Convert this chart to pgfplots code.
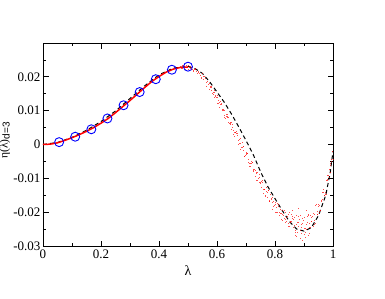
\documentclass[border=0pt]{standalone}
\usepackage{fontspec}
\setmainfont{Liberation Serif}
\setsansfont{Liberation Sans}
\usepackage{pgfplots}
\pgfplotsset{compat=1.18}
\begin{document}
\begin{tikzpicture}
\begin{axis}[
  name=ax,
  width=290pt, height=203pt, scale only axis,
  xmin=0, xmax=1, ymin=-0.03, ymax=0.03,
  xtick={0,0.2,0.4,0.6,0.8,1},
  minor xtick={0.1,0.3,0.5,0.7,0.9},
  ytick={-0.03,-0.02,-0.01,0,0.01,0.02},
  minor ytick={-0.025,-0.015,-0.005,0.005,0.015,0.025},
  scaled y ticks=false, scaled x ticks=false,
  /pgf/number format/assume math mode=true,
  yticklabel style={/pgf/number format/fixed, /pgf/number format/precision=2, xshift=1pt},
  xticklabel style={/pgf/number format/fixed},
  tick label style={font=\fontsize{13}{13}\selectfont},
  major tick length=5.5pt, minor tick length=3pt,
  tick style={black, line width=0.8pt},
  axis line style={line width=0.9pt},
  tick align=inside,
  xlabel={\fontsize{14}{14}\selectfont λ},
  ylabel={\fontsize{11.5}{11.5}\selectfont η(λ)\raisebox{-0.4ex}{\fontsize{10}{10}\selectfont\sffamily d=3}},
  ylabel style={at={(axis description cs:-0.1224,0.52)}, anchor=base, rotate=0},
  clip=true,
]
% dashed black curve
\addplot[black, line width=1pt, dash pattern=on 4pt off 3pt] coordinates {
(0,0) (0.05,0.0006) (0.1,0.0021) (0.15,0.0042) (0.2,0.0068) (0.25,0.0099)
(0.3,0.0136) (0.35,0.0173) (0.4,0.0206) (0.45,0.0226) (0.5,0.0231)
(0.525,0.0224) (0.55,0.0210) (0.575,0.0185) (0.6,0.0155) (0.625,0.0125)
(0.65,0.0090) (0.675,0.0052) (0.7,0.0012) (0.725,-0.0030) (0.75,-0.0080)
(0.775,-0.0124) (0.8,-0.0160) (0.825,-0.0195) (0.85,-0.0228) (0.875,-0.0250)
(0.9,-0.0256) (0.925,-0.0246) (0.95,-0.0210) (0.975,-0.0150) (0.99,-0.0085) (1.0,-0.0020)
};
% red solid line
\addplot[red, line width=1.5pt] coordinates {
(0,0) (0.025,0.0001) (0.05,0.0005) (0.075,0.0012) (0.1,0.0020) (0.125,0.0029)
(0.15,0.0039) (0.175,0.0050) (0.2,0.0063) (0.225,0.0077) (0.25,0.0094)
(0.275,0.0112) (0.3,0.0130) (0.325,0.0149) (0.35,0.0168) (0.375,0.0186)
(0.4,0.0201) (0.425,0.0214) (0.45,0.0223) (0.475,0.0228) (0.5,0.0229)
};
% red scattered points
\addplot[only marks, mark=square*, mark size=0.5pt, color=red, mark options={draw opacity=0, fill opacity=0.7}] coordinates {
(0.475,0.02301) (0.4775,0.02246) (0.480,0.02233) (0.4825,0.02325) (0.485,0.02347) (0.4875,0.02278)
(0.490,0.02272) (0.4925,0.02231) (0.495,0.02323) (0.4975,0.02303) (0.500,0.02227) (0.5025,0.02344)
(0.505,0.02279) (0.5075,0.02242) (0.510,0.02303) (0.5125,0.02273) (0.515,0.02208) (0.5175,0.02160)
(0.520,0.02176) (0.5225,0.02209) (0.525,0.02256) (0.5275,0.02229) (0.530,0.02153) (0.5325,0.02105)
(0.535,0.02148) (0.5375,0.02142) (0.540,0.02101) (0.5425,0.02053) (0.545,0.01991) (0.5475,0.01964)
(0.550,0.02108) (0.5525,0.01996) (0.555,0.01920) (0.5575,0.02024) (0.560,0.01948) (0.5625,0.01824)
(0.565,0.01724) (0.5675,0.01852) (0.570,0.01788) (0.5725,0.01634) (0.575,0.01804) (0.5775,0.01683)
(0.580,0.01598) (0.5825,0.01693) (0.585,0.01500) (0.5875,0.01475) (0.590,0.01594) (0.5925,0.01533)
(0.595,0.01412) (0.5975,0.01375) (0.600,0.01398) (0.6025,0.01214) (0.605,0.01306) (0.6075,0.01254)
(0.610,0.01106) (0.6125,0.01258) (0.615,0.01218) (0.6175,0.01034) (0.620,0.01006) (0.6225,0.01038)
(0.625,0.01010) (0.6275,0.00796) (0.630,0.00762) (0.6325,0.00830) (0.635,0.00802) (0.6375,0.00834)
(0.640,0.00794) (0.6425,0.00610) (0.645,0.00582) (0.6475,0.00662) (0.650,0.00454) (0.6525,0.00491)
(0.655,0.00592) (0.6575,0.00293) (0.660,0.00362) (0.6625,0.00367) (0.665,0.00356) (0.6675,0.00393)
(0.670,0.00254) (0.6725,0.00115) (0.675,0.00008) (0.6775,0.00142) (0.680,0.00180) (0.6825,-0.00158)
(0.685,-0.00080) (0.6875,-0.00090) (0.690,-0.00052) (0.6925,-0.00062) (0.695,-0.00360) (0.6975,-0.00338)
(0.700,-0.00284) (0.7025,-0.00246) (0.705,-0.00272) (0.7075,-0.00442) (0.710,-0.00532) (0.7125,-0.00638)
(0.715,-0.00648) (0.7175,-0.00562) (0.720,-0.00508) (0.7225,-0.00534) (0.725,-0.00736) (0.7275,-0.00808)
(0.730,-0.00736) (0.7325,-0.00776) (0.735,-0.00832) (0.7375,-0.01072) (0.740,-0.01072) (0.7425,-0.01000)
(0.745,-0.00896) (0.7475,-0.00968) (0.750,-0.01160) (0.7525,-0.01258) (0.755,-0.01096) (0.7575,-0.01114)
(0.760,-0.01452) (0.7625,-0.01330) (0.765,-0.01328) (0.7675,-0.01546) (0.770,-0.01284) (0.7725,-0.01422)
(0.775,-0.01580) (0.7775,-0.01353) (0.780,-0.01686) (0.7825,-0.01659) (0.785,-0.01472) (0.7875,-0.01585)
(0.790,-0.01718) (0.7925,-0.01921) (0.795,-0.01684) (0.7975,-0.01797) (0.800,-0.01770) (0.8025,-0.01715)
(0.805,-0.02020) (0.8075,-0.02005) (0.810,-0.01750) (0.8125,-0.01835) (0.815,-0.02020) (0.8175,-0.02025)
(0.820,-0.01930) (0.8225,-0.02215) (0.825,-0.02260) (0.8275,-0.02057) (0.830,-0.02094) (0.8325,-0.01951)
(0.835,-0.02008) (0.8375,-0.02225) (0.840,-0.02262) (0.8425,-0.02119) (0.845,-0.02336) (0.8475,-0.02423)
(0.850,-0.02010) (0.8525,-0.02261) (0.855,-0.02302) (0.8575,-0.02073) (0.860,-0.02174) (0.8625,-0.02455)
(0.865,-0.02226) (0.8675,-0.02147) (0.870,-0.02548) (0.8725,-0.02379) (0.875,-0.02090) (0.8775,-0.02602)
(0.880,-0.02424) (0.8825,-0.02306) (0.885,-0.02218) (0.8875,-0.02100) (0.890,-0.02642) (0.8925,-0.02464)
(0.895,-0.02346) (0.8975,-0.02258) (0.900,-0.02170) (0.9025,-0.02655) (0.905,-0.02480) (0.9075,-0.02350)
(0.910,-0.02520) (0.9125,-0.02120) (0.915,-0.02080) (0.9175,-0.02460) (0.920,-0.02330) (0.9225,-0.02110)
(0.925,-0.02160) (0.9275,-0.02277) (0.930,-0.02124) (0.9325,-0.02421) (0.935,-0.02358) (0.9375,-0.02055)
(0.940,-0.01812) (0.9425,-0.01779) (0.945,-0.02076) (0.9475,-0.02073) (0.950,-0.01840) (0.9525,-0.01797)
(0.955,-0.02018) (0.9575,-0.01964) (0.960,-0.01668) (0.9625,-0.01625) (0.965,-0.01406) (0.9675,-0.01341)
(0.970,-0.01518) (0.9725,-0.01475) (0.975,-0.01432) (0.9775,-0.01068) (0.980,-0.00924) (0.9825,-0.01022)
(0.985,-0.00922) (0.9875,-0.00976) (0.990,-0.00612) (0.9925,-0.00556) (0.995,-0.00434) (0.9975,-0.00202)
(1.000,-0.00454)
(0.895,-0.02830) (0.905,-0.02750) (0.870,-0.02680) (0.920,-0.02620) (0.860,-0.01950) (0.910,-0.01950)
(0.880,-0.01880) (0.888,-0.02780) (0.915,-0.02700) (0.875,-0.02720)
(0.57625,0.01720) (0.58125,0.01718) (0.58625,0.01536) (0.59125,0.01396) (0.59625,0.01442) (0.60125,0.01440)
(0.60625,0.01204) (0.61125,0.01190) (0.61625,0.01182) (0.62125,0.00994) (0.62625,0.00848) (0.63125,0.00888)
(0.63625,0.00880) (0.64125,0.00644) (0.64625,0.00630) (0.65125,0.00646) (0.65625,0.00416) (0.66125,0.00242)
(0.66625,0.00316) (0.67125,0.00326) (0.67625,0.00032) (0.68125,0.00036) (0.68625,0.00048) (0.69125,-0.00180)
(0.69625,-0.00352) (0.70125,-0.00276) (0.70625,-0.00264) (0.71125,-0.00556) (0.71625,-0.00552) (0.72125,-0.00540)
(0.72625,-0.00768) (0.73125,-0.00936) (0.73625,-0.00856) (0.74125,-0.00840) (0.74625,-0.01128) (0.75125,-0.01120)
(0.75625,-0.01076) (0.76125,-0.01332) (0.76625,-0.01518) (0.77125,-0.01394) (0.77625,-0.01350) (0.78125,-0.01676)
(0.78625,-0.01632) (0.79125,-0.01578) (0.79625,-0.01824) (0.80125,-0.02000) (0.80625,-0.01850) (0.81125,-0.01780)
(0.81625,-0.02090) (0.82125,-0.02030) (0.82625,-0.01960) (0.83125,-0.02174) (0.83625,-0.02318) (0.84125,-0.02152)
(0.84625,-0.02066) (0.85125,-0.02415) (0.85625,-0.02272) (0.86125,-0.02114) (0.86625,-0.02406) (0.87125,-0.02593)
(0.87625,-0.02315) (0.88125,-0.02139) (0.88625,-0.02533) (0.89125,-0.02372) (0.89625,-0.02196) (0.90125,-0.02470)
(0.90625,-0.02615) (0.91125,-0.02295) (0.91625,-0.02095) (0.92125,-0.02465) (0.92625,-0.02280) (0.93125,-0.02034)
(0.93625,-0.02238) (0.94125,-0.02337) (0.94625,-0.01971) (0.95125,-0.01785) (0.95625,-0.01941) (0.96125,-0.01690)
(0.96625,-0.01428) (0.97125,-0.01496) (0.97625,-0.01487) (0.98125,-0.01067) (0.98625,-0.00735) (0.99125,-0.00821)
(0.99625,-0.00500)
};
% blue circles
\addplot[only marks, mark=o, mark size=4.5pt, color=blue, line width=0.9pt] coordinates {
(0.0556,0.0007) (0.1111,0.0023) (0.1667,0.0045) (0.2222,0.0077) (0.2778,0.0116)
(0.3333,0.0155) (0.3889,0.0193) (0.4444,0.0221) (0.5,0.0230)
};
\end{axis}
\pgfresetboundingbox
\path[use as bounding box] ([shift={(-43pt,-52pt)}]ax.south west) rectangle ([shift={(52pt,43pt)}]ax.north east);
\end{tikzpicture}
\end{document}
